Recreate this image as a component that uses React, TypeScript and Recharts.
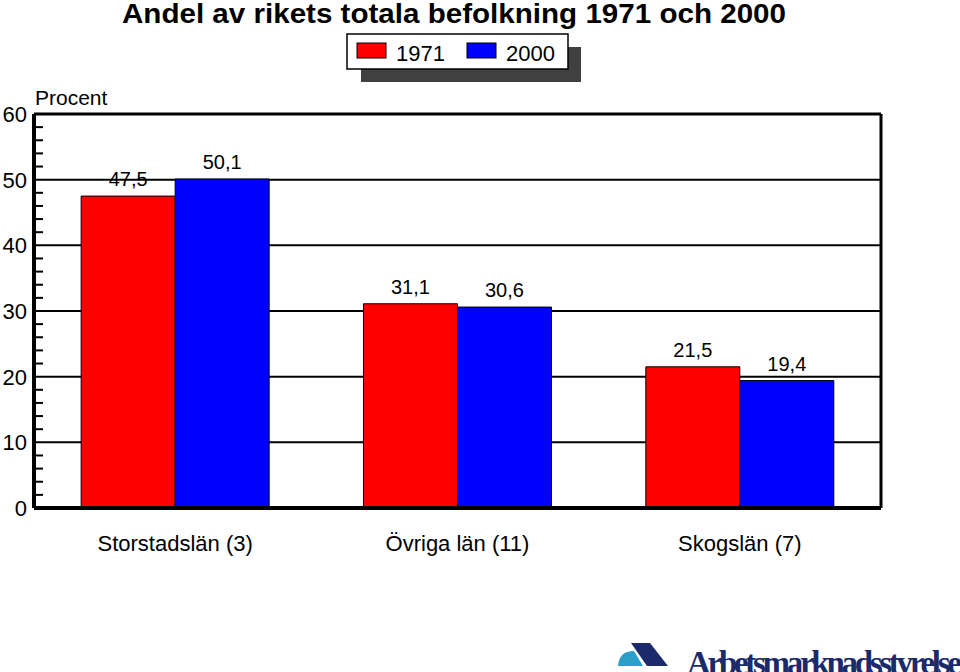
import React from "react";
import {
  BarChart,
  Bar,
  XAxis,
  YAxis,
  CartesianGrid,
  LabelList,
} from "recharts";

// data
const categories = ["Storstadslän (3)", "Övriga län (11)", "Skogslän (7)"];
const values1971 = [47.5, 31.1, 21.5];
const values2000 = [50.1, 30.6, 19.4];
const seriesNames = ["1971", "2000"];
const yTicks = [0, 2, 4, 6, 8, 10, 12, 14, 16, 18, 20, 22, 24, 26, 28, 30, 32, 34, 36, 38, 40, 42, 44, 46, 48, 50, 52, 54, 56, 58, 60];
const gridValues = [10, 20, 30, 40, 50];

const FONT = '"Liberation Sans", Arial, sans-serif';

const data = categories.map((name, i) => ({
  name,
  y1971: values1971[i],
  y2000: values2000[i],
}));

const fmt = (v: any) => Number(v).toFixed(1).replace(".", ",");

function YTick(props: any) {
  const { x, y, payload } = props;
  const v = payload.value;
  if (v % 10 === 0) {
    return (
      <text
        x={x - 7}
        y={y}
        dy={8}
        textAnchor="end"
        fontSize={22}
        fontFamily={FONT}
        fill="#000"
      >
        {v}
      </text>
    );
  }
  return <line x1={x} x2={x + 9} y1={y} y2={y} stroke="#000" strokeWidth={2} />;
}

function Overlay() {
  return (
    <svg
      width={960}
      height={672}
      style={{ position: "absolute", left: 0, top: 0, pointerEvents: "none" }}
    >
      <text
        x={454}
        y={23}
        textAnchor="middle"
        fontSize={28}
        fontWeight="bold"
        fontFamily={FONT}
        textLength={664}
        lengthAdjust="spacingAndGlyphs"
      >
        Andel av rikets totala befolkning 1971 och 2000
      </text>

      {/* legend with drop shadow */}
      <rect x={361} y={47} width={220} height={35} fill="#404040" />
      <rect x={347} y={34} width={221} height={35} fill="#fff" stroke="#000" strokeWidth={1.5} />
      <rect x={357} y={43} width={29} height={15} fill="#FF0000" stroke="#000" strokeWidth={1} />
      <text x={396} y={61} fontSize={22} fontFamily={FONT}>
        {seriesNames[0]}
      </text>
      <rect x={467} y={43} width={29} height={15} fill="#0000FF" stroke="#000" strokeWidth={1} />
      <text x={506} y={61} fontSize={22} fontFamily={FONT}>
        {seriesNames[1]}
      </text>

      <text x={35} y={105} fontSize={21} fontFamily={FONT}>
        Procent
      </text>

      {/* logo */}
      <path d="M618,666 Q619,651 634,651 L643,666 Z" fill="#2A9FC9" />
      <path d="M631,643 L650,643 L668,666 L647,666 Z" fill="#1B2A6B" />
      <text
        x={687}
        y={674}
        fontSize={33}
        fontWeight="bold"
        fontFamily='"Liberation Serif", "DejaVu Serif", serif'
        fill="#1B2A6B"
        textLength={290}
        lengthAdjust="spacing"
      >
        Arbetsmarknadsstyrelsen
      </text>
    </svg>
  );
}

export default function App() {
  return (
    <div
      style={{
        position: "absolute",
        left: 0,
        top: 0,
        width: 960,
        height: 672,
        background: "#fff",
        fontFamily: FONT,
      }}
    >
      <BarChart
        width={960}
        height={672}
        data={data}
        margin={{ top: 113, right: 78, bottom: 124, left: 0 }}
        barCategoryGap="16.7%"
        barGap={0}
      >
        <CartesianGrid
          horizontal
          vertical={false}
          horizontalValues={gridValues}
          stroke="#000"
          strokeWidth={2}
        />
        <XAxis
          dataKey="name"
          height={40}
          tickLine={false}
          tickSize={0}
          tickMargin={27}
          axisLine={{ stroke: "#000", strokeWidth: 4 }}
          tick={{ fill: "#000", fontSize: 22, fontFamily: FONT }}
        />
        <XAxis
          xAxisId="top"
          dataKey="name"
          orientation="top"
          height={1}
          tick={false}
          tickLine={false}
          axisLine={{ stroke: "#000", strokeWidth: 3 }}
        />
        <YAxis
          domain={[0, 60]}
          ticks={yTicks}
          interval={0}
          width={34}
          tickLine={false}
          tickSize={0}
          tickMargin={0}
          axisLine={{ stroke: "#000", strokeWidth: 4 }}
          tick={<YTick />}
        />
        <YAxis
          yAxisId="right"
          orientation="right"
          domain={[0, 60]}
          width={1}
          tick={false}
          tickLine={false}
          axisLine={{ stroke: "#000", strokeWidth: 3 }}
        />
        <Bar
          dataKey="y1971"
          name={seriesNames[0]}
          fill="#FF0000"
          stroke="#000"
          strokeWidth={1}
          isAnimationActive={false}
        >
          <LabelList
            dataKey="y1971"
            position="top"
            offset={10}
            formatter={fmt}
            fill="#000"
            fontSize={20}
            fontFamily={FONT}
          />
        </Bar>
        <Bar
          dataKey="y2000"
          name={seriesNames[1]}
          fill="#0000FF"
          stroke="#000"
          strokeWidth={1}
          isAnimationActive={false}
        >
          <LabelList
            dataKey="y2000"
            position="top"
            offset={10}
            formatter={fmt}
            fill="#000"
            fontSize={20}
            fontFamily={FONT}
          />
        </Bar>
      </BarChart>
      <Overlay />
    </div>
  );
}
